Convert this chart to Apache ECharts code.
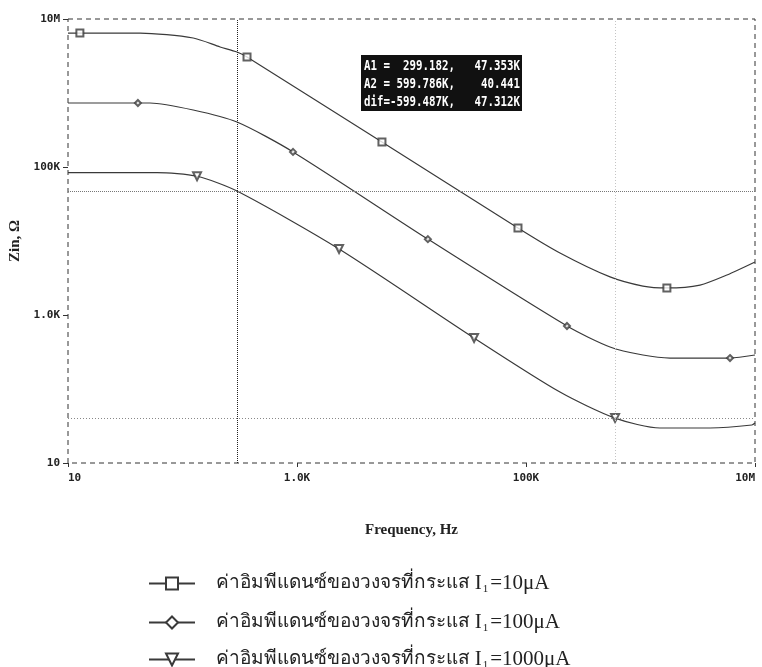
<!DOCTYPE html>
<html>
<head>
<meta charset="utf-8">
<script src="https://cdn.jsdelivr.net/npm/echarts@6/dist/echarts.min.js"></script>
<style>html,body{margin:0;padding:0;background:#fff;}#c{width:762px;height:667px;}</style>
</head>
<body>
<div id="c"></div>
<script>
// ---- data ----
const seriesNames = [
  'ค่าอิมพีแดนซ์ของวงจรที่กระแส I1=10μA',
  'ค่าอิมพีแดนซ์ของวงจรที่กระแส I1=100μA',
  'ค่าอิมพีแดนซ์ของวงจรที่กระแส I1=1000μA'
];
// curve I1 = 10uA
const c1Freq = [10, 12.7, 42.6, 124, 213, 299, 366, 5520, 85100, 198000, 542000, 1.05e6, 1.70e6, 3.31e6, 5.69e6, 1e7];
const c1Zin  = [6.46e6, 6.46e6, 6.46e6, 5.54e6, 4.19e6, 3.58e6, 3.06e6, 2.18e5, 1.5e4, 6890, 3270, 2460, 2320, 2540, 3470, 5200];
const c1MarkFreq = [12.7, 366, 5520, 85100, 1.70e6];
const c1MarkZin  = [6.46e6, 3.06e6, 2.18e5, 1.5e4, 2320];
// curve I1 = 100uA
const c2Freq = [10, 40.8, 52, 124, 299, 923, 13900, 228000, 542000, 1.05e6, 1.81e6, 6.05e6, 1e7];
const c2Zin  = [7.33e5, 7.33e5, 7.33e5, 5.89e5, 4.05e5, 1.6e5, 1.06e4, 710, 370, 288, 262, 262, 288];
const c2MarkFreq = [40.8, 923, 13900, 228000, 6.05e6];
const c2MarkZin  = [7.33e5, 1.6e5, 1.06e4, 710, 262];
// curve I1 = 1000uA
const c3Freq = [10, 60, 134, 299.182, 2330, 35200, 198000, 599786, 1.48e6, 4.05e6, 9.4e6, 1e7];
const c3Zin  = [8.4e4, 8.4e4, 7.5e4, 47353, 7800, 489, 91, 40.441, 29.7, 29.7, 32.6, 34.7];
const c3MarkFreq = [134, 2330, 35200, 599786];
const c3MarkZin  = [7.5e4, 7800, 489, 40.441];
// cursors
const cursorA1 = [299.182, 47353];
const cursorA2 = [599786, 40.441];
const cursorText = ['A1 =  299.182,   47.353K', 'A2 = 599.786K,    40.441', 'dif=-599.487K,   47.312K'];
// ticks
const xTickValues = [10, 1000, 100000, 10000000];
const xTickLabels = ['10', '1.0K', '100K', '10M'];
const yTickValues = [10, 1000, 100000, 10000000];
const yTickLabels = ['10', '1.0K', '100K', '10M'];

const pairs = (a, b) => a.map((v, i) => [v, b[i]]);
const chart = echarts.init(document.getElementById('c'), null, {renderer: 'canvas'});
const lineCol = '#3a3a3a';
const symbols = ['emptyRect', 'emptyDiamond', 'emptyTriangle'];
const rot = [0, 0, 180];
const lines = [[c1Freq, c1Zin], [c2Freq, c2Zin], [c3Freq, c3Zin]];
const marks = [[c1MarkFreq, c1MarkZin], [c2MarkFreq, c2MarkZin], [c3MarkFreq, c3MarkZin]];
const markSizes = [7, 6, 8];

const series = [];
lines.forEach((l, i) => {
  series.push({
    type: 'line', name: seriesNames[i], data: pairs(l[0], l[1]),
    showSymbol: false, symbol: symbols[i], symbolRotate: rot[i], symbolSize: 12,
    smooth: 0.25, lineStyle: {color: lineCol, width: 1.2}, itemStyle: {color: lineCol, borderWidth: 1.3},
    silent: true, z: 3
  });
});
marks.forEach((m, i) => {
  series.push({
    type: 'scatter', data: pairs(m[0], m[1]), symbol: symbols[i], symbolRotate: rot[i],
    symbolSize: markSizes[i], itemStyle: {color: lineCol, borderWidth: 1.2}, silent: true, z: 4
  });
});
series[0].markLine = {
  silent: true, symbol: 'none', label: {show: false}, animation: false,
  data: [
    {xAxis: cursorA1[0], lineStyle: {color: '#222', type: [1, 1], width: 1}},
    {yAxis: cursorA1[1], lineStyle: {color: '#777', type: [1, 1], width: 1}},
    {xAxis: cursorA2[0], lineStyle: {color: '#c4c4c4', type: [1, 2], width: 1}},
    {yAxis: cursorA2[1], lineStyle: {color: '#888', type: [1, 2], width: 1}}
  ]
};

const legendTops = [573, 612, 649];
const legends = seriesNames.map((n, i) => ({
  orient: 'vertical', left: 148, top: legendTops[i], itemWidth: 46, itemHeight: 15, padding: 0,
  data: [n], selectedMode: false,
  formatter: s => s.replace(/ I1=(.*)$/, ' {l|I}{s|1}{l|=$1}'),
  textStyle: {fontFamily: 'Liberation Serif', fontSize: 19, color: '#222', padding: [0, 0, 0, 16],
    rich: {
      l: {fontFamily: 'Liberation Serif', fontSize: 21, color: '#222'},
      s: {fontFamily: 'Liberation Serif', fontSize: 11, color: '#222', padding: [12, 2, 0, 1]}
    }}
}));

const tickFont = {fontFamily: 'DejaVu Sans Mono', fontWeight: 'bold', fontSize: 11, color: '#222'};
chart.setOption({
  animation: false,
  backgroundColor: '#fff',
  grid: {left: 68, right: 7, top: 19, bottom: 204, outerBoundsMode: 'none', containLabel: false,
    show: true, borderColor: '#333', borderWidth: 1, borderType: [5, 4]},
  xAxis: {
    type: 'log', logBase: 10, min: 10, max: 1e7,
    name: 'Frequency, Hz', nameLocation: 'middle', nameGap: 60,
    nameTextStyle: {fontFamily: 'Liberation Serif', fontWeight: 'bold', fontSize: 15, color: '#222'},
    axisLine: {show: false},
    axisTick: {show: true, customValues: xTickValues, length: 4, inside: false, lineStyle: {color: '#333'}},
    axisLabel: Object.assign({customValues: xTickValues, margin: 10, alignMinLabel: 'left', alignMaxLabel: 'right',
      formatter: v => xTickLabels[xTickValues.indexOf(v)] || ''}, tickFont),
    splitLine: {show: false}, minorTick: {show: false}
  },
  yAxis: {
    type: 'log', logBase: 10, min: 10, max: 1e7,
    name: 'Zin, Ω', nameLocation: 'middle', nameGap: 42, nameRotate: 90,
    nameTextStyle: {fontFamily: 'Liberation Serif', fontWeight: 'bold', fontSize: 15, color: '#222'},
    axisLine: {show: false},
    axisTick: {show: true, customValues: yTickValues, length: 5, lineStyle: {color: '#333'}},
    axisLabel: Object.assign({customValues: yTickValues, margin: 8, formatter: v => yTickLabels[yTickValues.indexOf(v)] || ''}, tickFont),
    splitLine: {show: false}
  },
  legend: legends,
  graphic: [{
    type: 'group', left: 361, top: 55, silent: true,
    children: [
      {type: 'rect', shape: {x: 0, y: 0, width: 161, height: 56}, style: {fill: '#111'}},
      {type: 'text', x: 3, y: 2, scaleY: 1.3, style: {text: cursorText.join('\n'), fill: '#fff', font: 'bold 10.8px "DejaVu Sans Mono"', lineHeight: 14}}
    ]
  }],
  series: series
});
</script>
</body>
</html>
